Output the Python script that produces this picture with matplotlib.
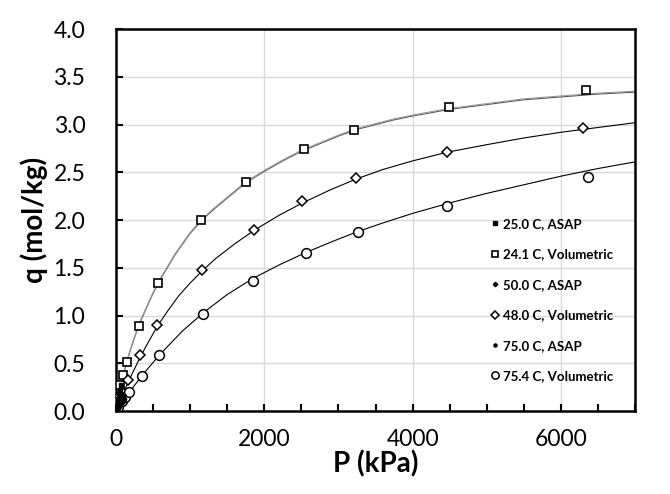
import numpy as np
import matplotlib
matplotlib.use("Agg")
import matplotlib.pyplot as plt
from matplotlib.ticker import MultipleLocator, FormatStrFormatter

plt.rcParams["font.family"] = ["Lato", "DejaVu Sans"]

# measured points (kPa, mol/kg)
p_25_asap = [8, 18, 30, 42, 55, 70]
q_25_asap = [0.04, 0.08, 0.13, 0.17, 0.22, 0.27]
p_24_vol = [25, 55, 99, 144, 310, 567, 1143, 1750, 2530, 3212, 4494, 6338]
q_24_vol = [0.13, 0.27, 0.38, 0.51, 0.89, 1.34, 2.00, 2.40, 2.74, 2.94, 3.18, 3.36]

p_50_asap = [10, 22, 38, 55, 75, 95]
q_50_asap = [0.02, 0.04, 0.07, 0.10, 0.14, 0.17]
p_48_vol = [40, 90, 165, 324, 558, 1165, 1858, 2515, 3239, 4462, 6293]
q_48_vol = [0.09, 0.19, 0.33, 0.59, 0.90, 1.48, 1.90, 2.20, 2.44, 2.71, 2.96]

p_75_asap = [10, 25, 45, 65, 90, 115]
q_75_asap = [0.01, 0.03, 0.05, 0.08, 0.11, 0.13]
p_75_vol = [5, 31, 77, 122, 175, 347, 585, 1180, 1849, 2560, 3261, 4467, 6370]
q_75_vol = [0.01, 0.045, 0.10, 0.15, 0.20, 0.37, 0.59, 1.02, 1.36, 1.65, 1.87, 2.15, 2.45]

# fitted curves
p_fit_25 = [0, 50, 100, 150, 200, 300, 400, 500, 600, 700, 800, 900, 1000, 1150, 1300,
            1500, 1750, 2000, 2250, 2500, 2750, 3000, 3250, 3500, 3750, 4000, 4500,
            5000, 5500, 6000, 6500, 7000]
q_fit_25 = [0, 0.20, 0.37, 0.52, 0.65, 0.88, 1.06, 1.23, 1.38, 1.51, 1.64, 1.75, 1.86,
            1.99, 2.10, 2.23, 2.39, 2.51, 2.62, 2.72, 2.80, 2.88, 2.95, 3.00, 3.05, 3.09,
            3.16, 3.21, 3.26, 3.29, 3.32, 3.34]
q_fit_24 = [0, 0.21, 0.38, 0.53, 0.66, 0.89, 1.07, 1.24, 1.39, 1.52, 1.65, 1.76, 1.87,
            2.00, 2.11, 2.24, 2.40, 2.52, 2.63, 2.73, 2.81, 2.89, 2.96, 3.01, 3.06, 3.10,
            3.17, 3.22, 3.27, 3.30, 3.33, 3.35]

p_fit_50 = [0, 50, 100, 200, 300, 400, 560, 700, 850, 1000, 1165, 1350, 1600, 1858,
            2200, 2515, 2900, 3240, 3600, 4000, 4460, 5000, 5500, 6000, 6500, 7000]
q_fit_50 = [0, 0.10, 0.19, 0.36, 0.52, 0.67, 0.89, 1.05, 1.21, 1.34, 1.47, 1.60, 1.75,
            1.89, 2.05, 2.18, 2.32, 2.43, 2.53, 2.62, 2.71, 2.79, 2.86, 2.92, 2.97, 3.02]

p_fit_75 = [0, 100, 175, 350, 590, 900, 1180, 1500, 1850, 2200, 2560, 2900, 3260,
            3600, 4000, 4500, 5000, 5500, 6000, 6500, 7000]
q_fit_75 = [0, 0.11, 0.19, 0.37, 0.59, 0.84, 1.03, 1.22, 1.39, 1.53, 1.66, 1.77, 1.88,
            1.97, 2.07, 2.18, 2.28, 2.37, 2.46, 2.54, 2.61]

fig = plt.figure(figsize=(6.7, 4.94), dpi=100)
ax = fig.add_axes([0.173, 0.168, 0.775, 0.773])

ax.plot(p_fit_25, q_fit_25, color="#555555", lw=0.8, zorder=2)
ax.plot(p_fit_25, q_fit_24, color="#999999", lw=0.8, zorder=2)
ax.plot(p_fit_50, q_fit_50, color="black", lw=0.8, zorder=2)
ax.plot(p_fit_75, q_fit_75, color="black", lw=0.8, zorder=2)

ax.plot(p_25_asap, q_25_asap, "s", ms=3, color="black", ls="none", label="25.0 C, ASAP", zorder=4)
ax.plot(p_24_vol, q_24_vol, "s", ms=6, mfc="white", mec="black", mew=1.2, ls="none",
        label="24.1 C, Volumetric", zorder=3)
ax.plot(p_50_asap, q_50_asap, "D", ms=3, color="black", ls="none", label="50.0 C, ASAP", zorder=4)
ax.plot(p_48_vol, q_48_vol, "D", ms=5, mfc="white", mec="black", mew=1.1, ls="none",
        label="48.0 C, Volumetric", zorder=3)
ax.plot(p_75_asap, q_75_asap, "o", ms=3, color="black", ls="none", label="75.0 C, ASAP", zorder=4)
ax.plot(p_75_vol, q_75_vol, "o", ms=7, mfc="white", mec="black", mew=1.1, ls="none",
        label="75.4 C, Volumetric", zorder=3)

ax.set_xlim(0, 7000)
ax.set_ylim(0, 4.0)
ax.xaxis.set_major_locator(MultipleLocator(2000))
ax.xaxis.set_minor_locator(MultipleLocator(500))
ax.yaxis.set_major_locator(MultipleLocator(0.5))
ax.yaxis.set_major_formatter(FormatStrFormatter("%.1f"))
ax.grid(True, which="major", color="#d9d9d9", lw=1.0, zorder=0)
ax.set_axisbelow(True)

ax.tick_params(axis="both", which="both", direction="in", length=5, width=1.5,
               labelsize=16.5)
ax.tick_params(axis="x", which="both", pad=13)
ax.tick_params(axis="y", which="both", pad=22)
for s in ax.spines.values():
    s.set_linewidth(1.8)

ax.set_xlabel("P (kPa)", fontsize=20, fontweight="bold", labelpad=0)
ax.set_ylabel("q (mol/kg)", fontsize=20, fontweight="bold", labelpad=4)

leg = ax.legend(loc="upper left", bbox_to_anchor=(0.712, 0.52), frameon=False,
                prop={"size": 9.5, "weight": "bold"}, labelspacing=1.4,
                handlelength=0.6, handletextpad=0.35, numpoints=1, markerscale=0.75,
                borderaxespad=0)

fig.savefig("out.png", dpi=100)
